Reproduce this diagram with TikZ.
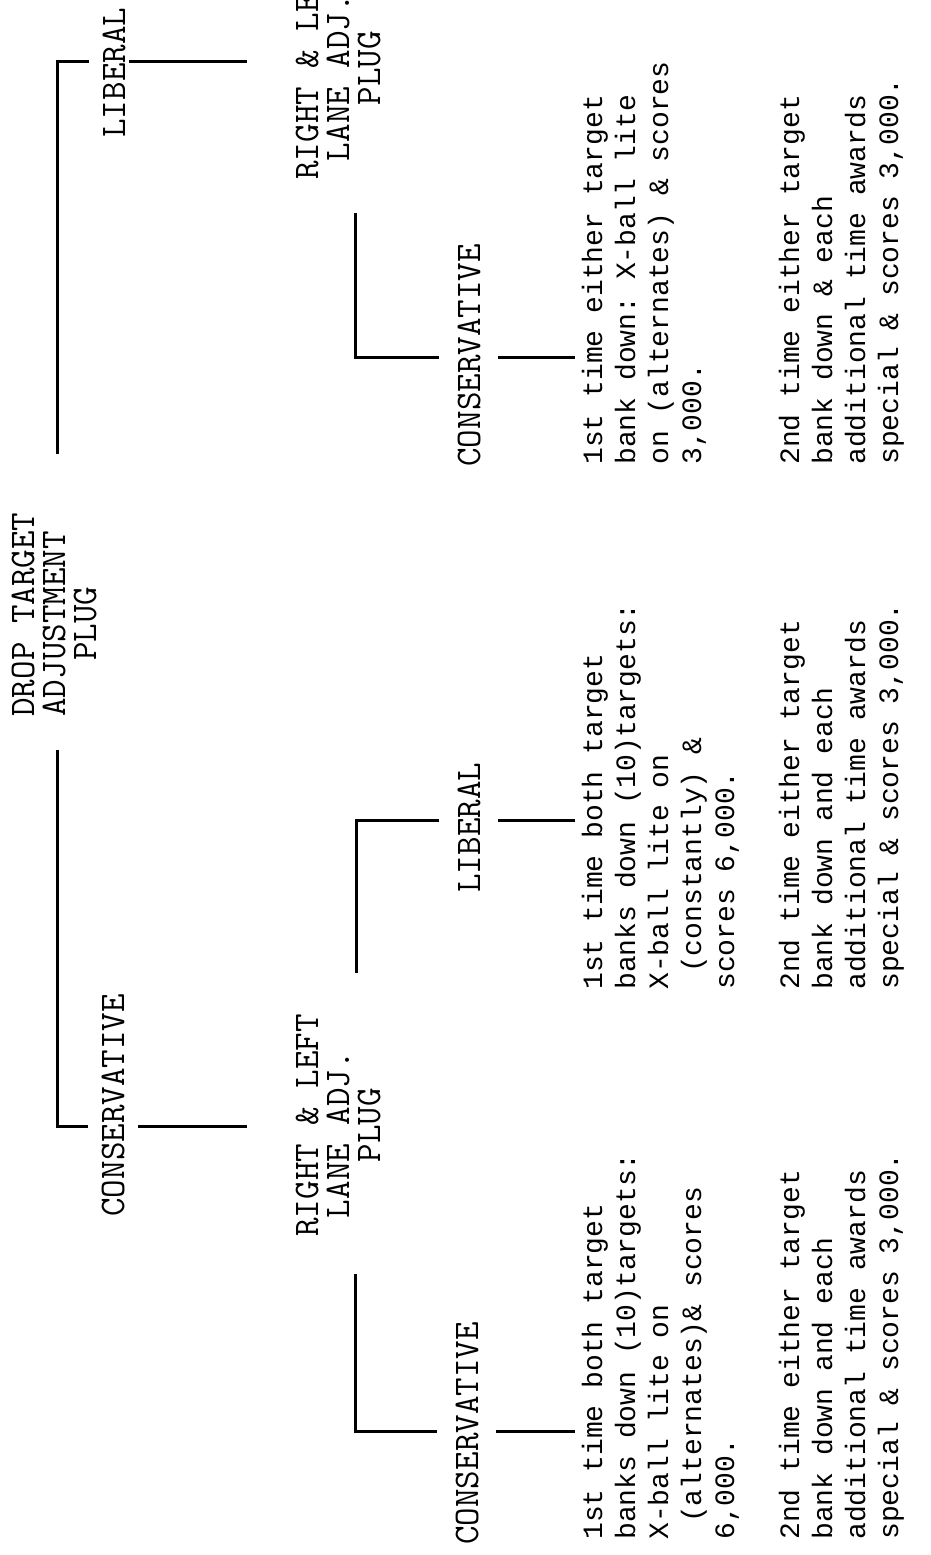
\documentclass[tikz,border=0pt]{standalone}
\usepackage{fontspec}
\newfontfamily\typefont{Liberation Mono}
\usetikzlibrary{calc}
\tikzset{
  brk/.style={line width=1.5pt},
  lab/.style={rotate=90,anchor=base west,inner sep=0pt,align=left,font=\ttfamily\addfontfeatures{FakeBold=2}\fontsize{18}{15.5}\selectfont},
  txt/.style={rotate=90,anchor=base west,inner sep=0pt,align=left,font=\typefont\fontsize{14}{16.5}\selectfont},
}
\frenchspacing
\begin{document}
\begin{tikzpicture}[x=0.5pt,y=-0.5pt]
        \useasboundingbox (0,0) rectangle (931,1555);
        \clip (0,0) rectangle (931,1555);
        \node[lab] (title) at (96,717) {DROP TARGET\\ADJUSTMENT\\\ \ \ PLUG};
        \node[lab] (libT) at (125,138) {LIBERAL};
        \node[lab] (conT) at (124,1217) {CONSERVATIVE};
        \node[lab] (plugT) at (380,180) {RIGHT \& LEFT\\\ LANE ADJ.\\\ \ \ \ PLUG};
        \node[lab] (plugB) at (380,1237) {RIGHT \& LEFT\\\ LANE ADJ.\\\ \ \ \ PLUG};
        \node[lab] (conR) at (480,467) {CONSERVATIVE};
        \node[lab] (libM) at (480,893) {LIBERAL};
        \node[lab] (conL) at (478,1545) {CONSERVATIVE};
        \node[txt] (blkR1) at (701,465) {1st time either target\\bank down: X-ball lite\\on (alternates) \& scores\\3,000.};
        \node[txt] (blkR2) at (898,465) {2nd time either target\\bank down \& each\\additional time awards\\special \& scores 3,000.};
        \node[txt] (blkM1) at (734,990) {1st time both target\\banks down (10)targets:\\X-ball lite on\\\ (constantly) \&\\scores 6,000.};
        \node[txt] (blkM2) at (898,990) {2nd time either target\\bank down and each\\additional time awards\\special \& scores 3,000.};
        \node[txt] (blkL1) at (734,1540) {1st time both target\\banks down (10)targets:\\X-ball lite on\\\ (alternates)\& scores\\6,000.};
        \node[txt] (blkL2) at (898,1540) {2nd time either target\\bank down and each\\additional time awards\\special \& scores 3,000.};
        \coordinate (m1) at (57,61);
        \coordinate (m2) at (57,1126);
        \coordinate (s1) at (355,357);
        \coordinate (s2) at (356,820);
        \coordinate (s3) at (355,1431);
        \draw[brk] ($(m1 |- title.east)+(0,-58)$) -- (m1) -- ([xshift=-6.5pt]libT.north |- m1);
        \draw[brk] ([xshift=1.5pt]libT.south |- m1) -- ([xshift=-24pt]plugT.north |- m1);
        \draw[brk] ($(m2 |- title.west)+(0,33)$) -- (m2) -- ([xshift=-6.5pt]conT.north |- m2);
        \draw[brk] ([xshift=6.5pt]conT.south |- m2) -- ([xshift=-24pt]plugB.north |- m2);
        \draw[brk] ($(s1 |- plugT.west)+(0,33)$) -- (s1) -- ([xshift=-9pt]conR.north |- s1);
        \draw[brk] ([xshift=8.5pt]conR.south |- s1) -- ([xshift=-3pt]blkR1.north |- s1);
        \draw[brk] ($(s2 |- plugB.east)+(0,-41)$) -- (s2) -- ([xshift=-9pt]libM.north |- s2);
        \draw[brk] ([xshift=8.5pt]libM.south |- s2) -- ([xshift=-3pt]blkM1.north |- s2);
        \draw[brk] ($(s3 |- plugB.west)+(0,37)$) -- (s3) -- ([xshift=-9pt]conL.north |- s3);
        \draw[brk] ([xshift=8.5pt]conL.south |- s3) -- ([xshift=-3pt]blkL1.north |- s3);
    \end{tikzpicture}
\end{document}
